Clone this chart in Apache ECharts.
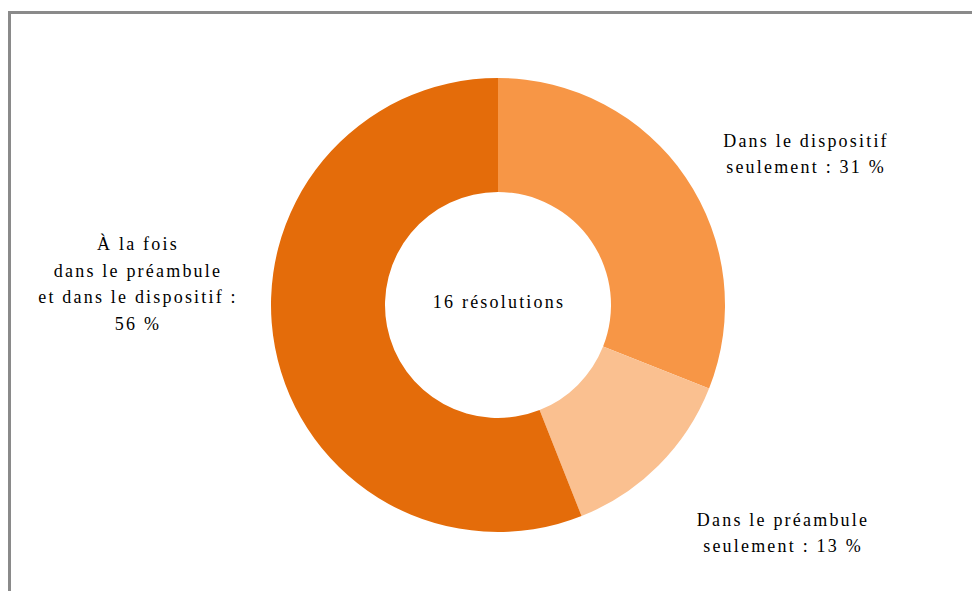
<!DOCTYPE html>
<html>
<head>
<meta charset="utf-8">
<script src="https://cdn.jsdelivr.net/npm/echarts@6/dist/echarts.min.js"></script>
<style>
  html, body { margin: 0; padding: 0; background: #fff; }
  #chart { width: 972px; height: 591px; position: absolute; left: 0; top: 0; }
  #chart text { letter-spacing: 2.2px; }
  #frame { position: absolute; left: 8px; top: 11px; right: 0; bottom: 0;
           border-top: 3px solid #8a8a8a; border-left: 3px solid #8a8a8a; pointer-events: none; }
</style>
</head>
<body>
<div id="chart"></div>
<div id="frame"></div>
<script>
// Répartition des résolutions
const categories = [
  'Dans le dispositif\nseulement',
  'Dans le préambule\nseulement',
  'À la fois\ndans le préambule\net dans le dispositif'
];
const values = [31, 13, 56];
const colors = ['#F79646', '#FAC090', '#E46C0A'];
const centerText = '16 résolutions';

// label anchor points (centre of each text block)
const labelAnchors = [[806, 154], [783, 533], [138, 284]];

function labelText(i) {
  if (i === 2) return 'À la fois\ndans le préambule\net dans le dispositif :\n' + values[i] + ' %';
  return categories[i] + ' : ' + values[i] + ' %';
}

const chart = echarts.init(document.getElementById('chart'), null, { renderer: 'svg' });
chart.setOption({
  animation: false,
  graphic: [{
    type: 'text',
    x: 499, y: 302,
    style: {
      text: centerText,
      align: 'center', verticalAlign: 'middle',
      font: '18px "Liberation Serif"', fill: '#000'
    },
    silent: true
  }],
  series: [{
    type: 'pie',
    center: [498, 305],
    radius: [113, 227],
    startAngle: 90,
    clockwise: true,
    avoidLabelOverlap: false,
    data: categories.map((c, i) => ({ name: c, value: values[i], itemStyle: { color: colors[i] } })),
    label: {
      show: true,
      position: 'outside',
      formatter: p => labelText(p.dataIndex),
      fontFamily: 'Liberation Serif',
      fontSize: 18,
      lineHeight: 26.5,
      color: '#000',
      align: 'center'
    },
    labelLine: { show: false },
    labelLayout: function (params) {
      const a = labelAnchors[params.dataIndex];
      return { x: a[0], y: a[1], align: 'center', verticalAlign: 'middle' };
    },
    emphasis: { disabled: true }
  }]
});
</script>
</body>
</html>
